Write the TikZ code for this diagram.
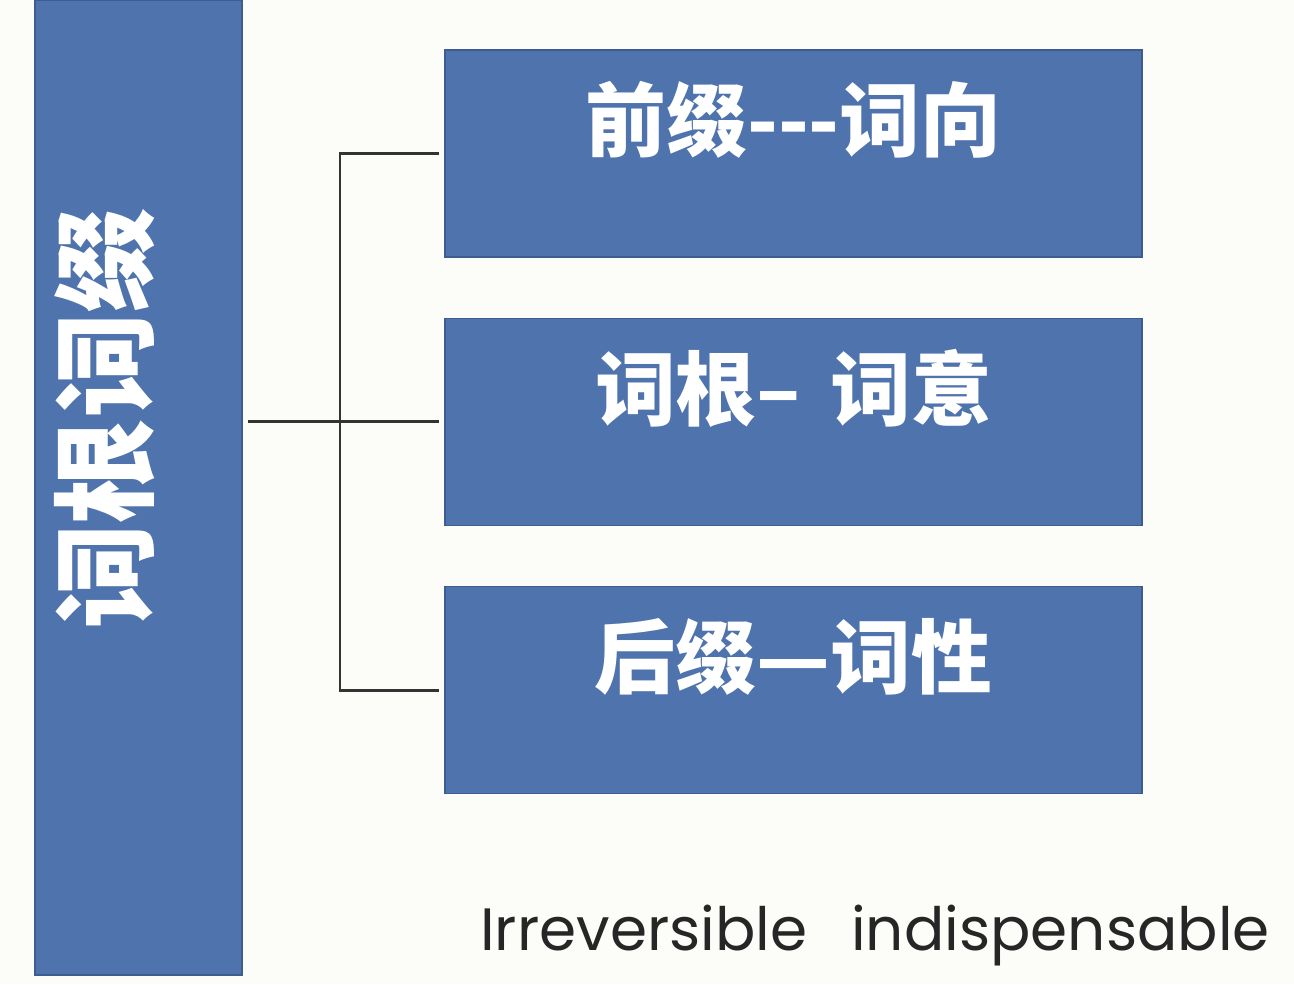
\documentclass[tikz,border=0pt]{standalone}
\usepackage{fontspec}
\setmainfont{Poppins}
\newfontfamily\cjk{Noto Sans CJK SC}
\usetikzlibrary{positioning}
\definecolor{slideblue}{HTML}{4E73AD}
\definecolor{slideedge}{HTML}{3D5C8F}
\definecolor{paper}{HTML}{FCFCF9}
\begin{document}
\begin{tikzpicture}[x=0.02cm,y=-0.02cm,
    box/.style={draw=slideedge,line width=0.8pt,fill=slideblue,
        minimum width=13.94cm,minimum height=4.14cm,inner sep=0pt},
    boxtext/.style={text=white,font=\cjk\bfseries\fontsize{46}{50}\selectfont,yshift=19pt},
    bartext/.style={text=white,font=\cjk\bfseries\fontsize{60}{62}\selectfont,
        rotate=90,xshift=39pt,yshift=19pt},
    conn/.style={draw=black!80,line width=1.6pt,shorten <=3pt,shorten >=3pt}]
    \useasboundingbox (0,0) rectangle (1294,984);
    \fill[paper] (0,0) rectangle (1294,984);
    % left bar
    \node[box,minimum width=4.14cm,minimum height=19.5cm,
        label={[bartext]center:词根词缀}] (root) at (138.5,487.5) {};
    % three boxes
    \node[box,label={[boxtext]center:前缀-{}-{}-词向}] (pre) at (793.5,153.5) {};
    \node[box,below=1.2cm of pre,label={[boxtext]center:词根–\hspace{6pt} 词意}] (mid) {};
    \node[box,below=1.2cm of mid,label={[boxtext]center:后缀—词性}] (suf) {};
    \coordinate (fork) at (340,0);
    \draw[conn] (root.east |- mid.west) -- (mid.west);
    \draw[conn] (pre.west) -| (fork |- mid.west) |- (suf.west);
    \node[font=\fontsize{34}{36}\selectfont,text=black!85,anchor=base] (note)
        at (875,950) {Irreversible\hspace{25pt}indispensable};
\end{tikzpicture}
\end{document}
